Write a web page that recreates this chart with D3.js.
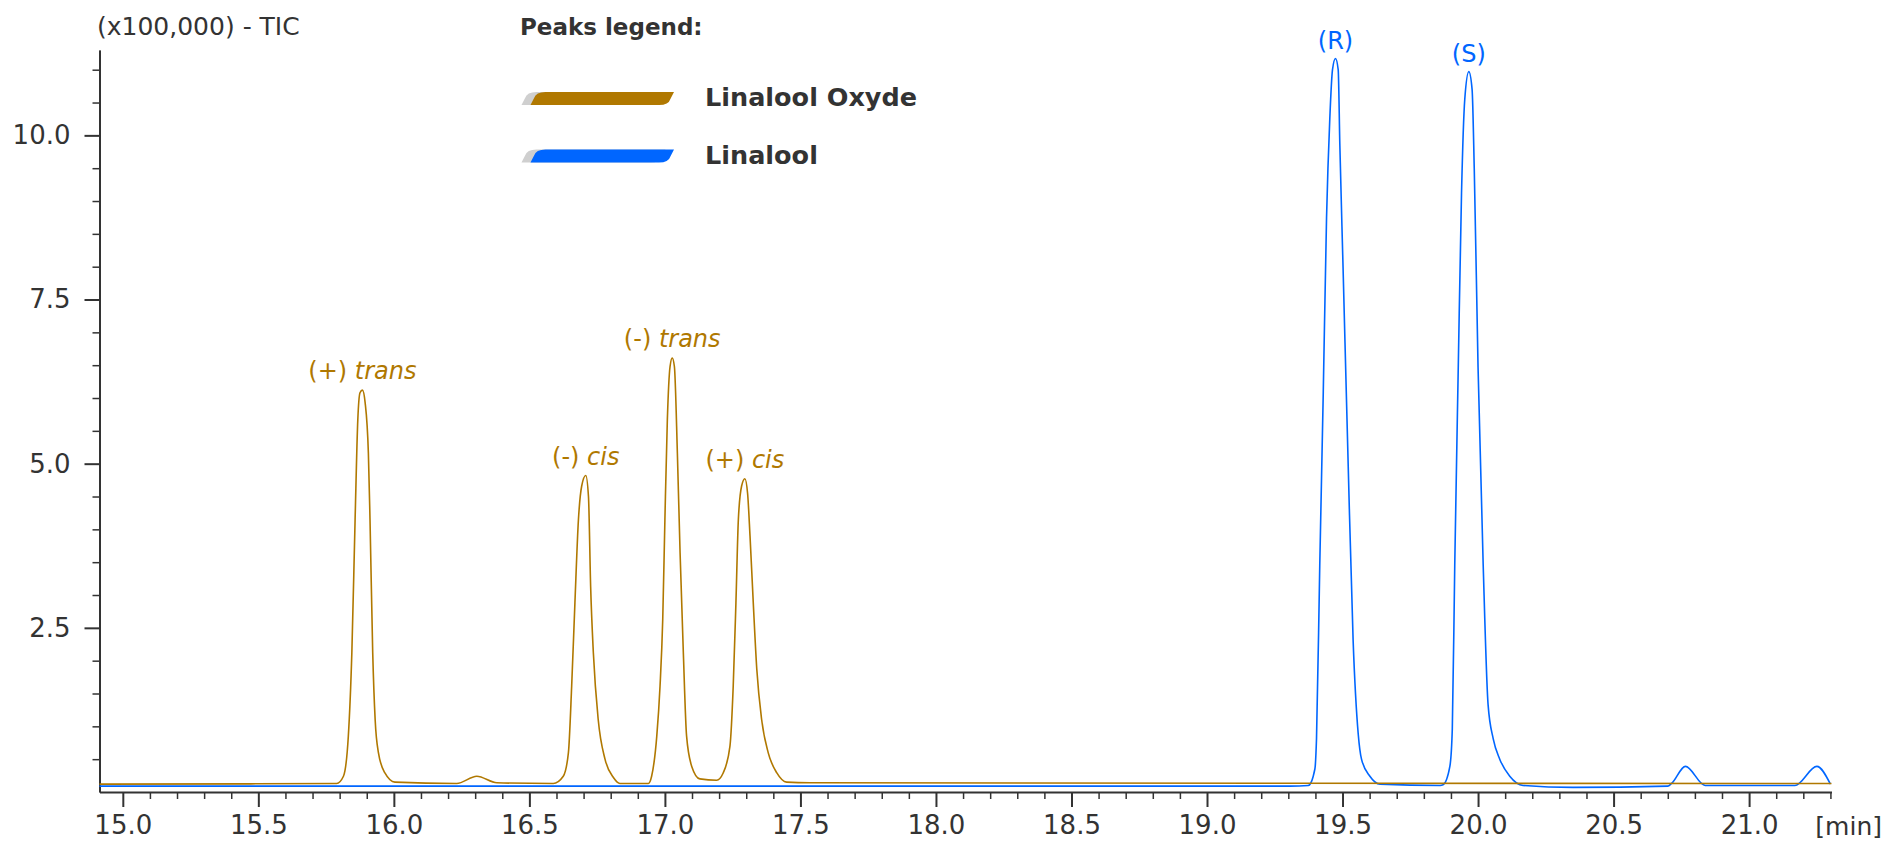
<!DOCTYPE html>
<html>
<head>
<meta charset="utf-8">
<script src="https://cdn.jsdelivr.net/npm/d3@7"></script>
<style>
	body { margin: 0; background: #fff; }
	svg { font-family: "DejaVu Sans", sans-serif; }
	.axis path, .axis line { stroke: #333; }
	.axis text { fill: #333; font-size: 26px; font-family: "DejaVu Sans", sans-serif; }
</style>
</head>
<body>
<svg class="tic" width="1883" height="841"></svg>
<script>
// Linalool Oxyde trace (min, x100,000 counts)
var oxydeTime = [14.914, 15.789, 15.814, 15.832, 15.845, 15.857, 15.867, 15.875, 15.884, 15.894, 15.906, 15.912, 15.922, 15.931, 15.943, 15.967, 16.004,
	16.232, 16.306, 16.380, 16.588,
	16.625, 16.644, 16.656, 16.668, 16.681, 16.693, 16.708, 16.718, 16.726, 16.736, 16.754, 16.779, 16.810, 16.834, 16.939,
	16.951, 16.970, 16.982, 16.992, 17.000, 17.009, 17.019, 17.027, 17.035, 17.046, 17.056, 17.068, 17.080, 17.099, 17.129, 17.191,
	17.215, 17.240, 17.252, 17.262, 17.271, 17.283, 17.295, 17.305, 17.314, 17.326, 17.339, 17.357, 17.381, 17.413, 17.449, 17.535, 21.304];
var oxydeSignal = [0.12, 0.13, 0.24, 0.85, 2.12, 4.15, 5.67, 6.08, 6.12, 5.93, 5.16, 4.15, 2.12, 1.10, 0.60, 0.29, 0.15,
	0.13, 0.24, 0.14, 0.13,
	0.24, 0.60, 1.61, 2.88, 4.15, 4.66, 4.82, 4.50, 3.13, 2.12, 1.10, 0.50, 0.22, 0.13, 0.13,
	0.24, 0.85, 1.61, 2.63, 4.15, 5.67, 6.48, 6.61, 6.48, 5.16, 3.64, 2.12, 0.85, 0.39, 0.20, 0.18,
	0.29, 0.70, 1.61, 2.88, 4.15, 4.66, 4.77, 4.55, 3.90, 2.88, 1.87, 1.10, 0.60, 0.29, 0.15, 0.14, 0.13];

// Linalool trace
var linaloolTime = [14.914, 19.306, 19.374, 19.398, 19.404, 19.416, 19.429, 19.441, 19.453, 19.463, 19.474, 19.484, 19.490, 19.502, 19.521, 19.539, 19.558, 19.570, 19.601, 19.638, 19.860,
	19.871, 19.896, 19.905, 19.914, 19.927, 19.939, 19.951, 19.966, 19.978, 19.986, 20.000, 20.019, 20.037, 20.056, 20.080, 20.117, 20.166,
	20.350, 20.700, 20.714, 20.765, 20.838, 21.169, 21.250, 21.300];
var linaloolSignal = [0.09, 0.09, 0.10, 0.35, 0.81, 3.45, 6.10, 8.74, 10.25, 11.00, 11.17, 11.00, 9.87, 7.98, 4.96, 2.32, 0.88, 0.50, 0.24, 0.12, 0.10,
	0.11, 0.39, 0.96, 3.45, 6.47, 9.12, 10.55, 10.97, 10.70, 9.49, 6.47, 3.45, 1.33, 0.81, 0.50, 0.24, 0.10,
	0.07, 0.09, 0.13, 0.39, 0.10, 0.10, 0.39, 0.12];

// peak labels
var oxydePeakLabels = [["(+) ", "trans"], ["(-) ", "cis"], ["(-) ", "trans"], ["(+) ", "cis"]];
var oxydePeakTime = [15.884, 16.708, 17.027, 17.295];
var oxydePeakSignal = [6.12, 4.82, 6.61, 4.77];
var linaloolPeakLabels = ["(R)", "(S)"];
var linaloolPeakTime = [19.474, 19.966];
var linaloolPeakSignal = [11.17, 10.97];

var legendNames = ["Linalool Oxyde", "Linalool"];
var seriesColors = ["#b07800", "#0066ff"];

var xDomain = [14.914, 21.304];
var yDomain = [0, 11.3];
var xMajorTicks = [15.0, 15.5, 16.0, 16.5, 17.0, 17.5, 18.0, 18.5, 19.0, 19.5, 20.0, 20.5, 21.0];
var yMajorTicks = [2.5, 5.0, 7.5, 10.0];

var tic = {
	svg:		null,
	xScale:		null,
	yScale:		null,
	left:		99.5,
	right:		1831.5,
	top:		50,
	bottom:		792,

	setup: function() {
		this.svg = d3.select(".tic");
		this.xScale = d3.scaleLinear().domain(xDomain).range([this.left, this.right]);
		this.yScale = d3.scaleLinear().domain(yDomain).range([this.bottom, this.top]);
	},

	draw: function() {
		var x = this.xScale, y = this.yScale;

		// minor ticks: every 0.1 min / every 0.5 units
		var xMinor = d3.range(151, 214).map(function(d) { return d / 10; })
			.filter(function(d) { return Math.round(d * 10) % 5 != 0; });
		var yMinor = d3.range(1, 23).map(function(d) { return d / 2; })
			.filter(function(d) { return yMajorTicks.indexOf(d) < 0; });

		this.svg.append("g")
			.attr("class", "axis")
			.attr("transform", "translate(0," + this.bottom + ")")
			.call(d3.axisBottom(x).tickValues(xMinor).tickSize(7).tickSizeOuter(0).tickFormat(""))
			.call(function(g) { g.selectAll("line").attr("stroke-width", 1.5); });

		this.svg.append("g")
			.attr("class", "axis")
			.attr("transform", "translate(0," + this.bottom + ")")
			.call(d3.axisBottom(x).tickValues(xMajorTicks).tickSize(15).tickSizeOuter(0).tickPadding(9).tickFormat(d3.format(".1f")))
			.call(function(g) { g.select(".domain").attr("stroke-width", 2); g.selectAll("line").attr("stroke-width", 2); });

		this.svg.append("g")
			.attr("class", "axis")
			.attr("transform", "translate(" + this.left + ",0)")
			.call(d3.axisLeft(y).tickValues(yMinor).tickSize(7).tickSizeOuter(0).tickFormat(""))
			.call(function(g) { g.selectAll("line").attr("stroke-width", 1.5); });

		this.svg.append("g")
			.attr("class", "axis")
			.attr("transform", "translate(" + this.left + ",0)")
			.call(d3.axisLeft(y).tickValues(yMajorTicks).tickSize(15).tickSizeOuter(0).tickPadding(14).tickFormat(d3.format(".1f")))
			.call(function(g) { g.select(".domain").attr("stroke-width", 2); g.selectAll("line").attr("stroke-width", 2); });

		this.svg.append("text")
			.attr("x", 97).attr("y", 35)
			.attr("fill", "#333").attr("font-size", 25)
			.text("(x100,000) - TIC");

		this.svg.append("text")
			.attr("x", 1882).attr("y", 835)
			.attr("text-anchor", "end")
			.attr("fill", "#333").attr("font-size", 25)
			.text("[min]");

		// traces
		var line = d3.line()
			.x(function(d) { return x(d[0]); })
			.y(function(d) { return y(d[1]); })
			.curve(d3.curveMonotoneX);

		var traces = [d3.zip(linaloolTime, linaloolSignal), d3.zip(oxydeTime, oxydeSignal)];
		var traceColors = [seriesColors[1], seriesColors[0]];
		this.svg.selectAll(".trace")
			.data(traces)
			.enter().append("path")
			.attr("class", "trace")
			.attr("d", line)
			.attr("fill", "none")
			.attr("stroke", function(d, i) { return traceColors[i]; })
			.attr("stroke-width", 1.6);

		// peak labels
		var oxLabels = this.svg.selectAll(".oxLabel")
			.data(oxydePeakLabels)
			.enter().append("text")
			.attr("class", "oxLabel")
			.attr("x", function(d, i) { return x(oxydePeakTime[i]); })
			.attr("y", function(d, i) { return y(oxydePeakSignal[i]) - 11; })
			.attr("text-anchor", "middle")
			.attr("fill", seriesColors[0])
			.attr("font-size", 24);
		oxLabels.append("tspan").text(function(d) { return d[0]; });
		oxLabels.append("tspan").attr("font-style", "italic").text(function(d) { return d[1]; });

		this.svg.selectAll(".liLabel")
			.data(linaloolPeakLabels)
			.enter().append("text")
			.attr("class", "liLabel")
			.attr("x", function(d, i) { return x(linaloolPeakTime[i]); })
			.attr("y", function(d, i) { return y(linaloolPeakSignal[i]) - 10; })
			.attr("text-anchor", "middle")
			.attr("fill", seriesColors[1])
			.attr("font-size", 24)
			.text(function(d) { return d; });

		this.drawLegend();
	},

	// slanted stroke with rounded top-left and bottom-right corners
	swatch: function(x0, y0, w, h, s, r) {
		return "M" + x0 + "," + (y0 + h) +
			" L" + (x0 + s * 0.4) + "," + (y0 + r) +
			" Q" + (x0 + s * 0.6) + "," + y0 + " " + (x0 + s + r) + "," + y0 +
			" L" + (x0 + w) + "," + y0 +
			" L" + (x0 + w - s * 0.4) + "," + (y0 + h - r) +
			" Q" + (x0 + w - s * 0.6) + "," + (y0 + h) + " " + (x0 + w - s - r) + "," + (y0 + h) +
			" Z";
	},

	drawLegend: function() {
		var self = this;
		this.svg.append("text")
			.attr("x", 520).attr("y", 35)
			.attr("fill", "#333").attr("font-size", 23).attr("font-weight", "bold")
			.text("Peaks legend:");

		var items = this.svg.selectAll(".legendItem")
			.data(legendNames)
			.enter().append("g")
			.attr("class", "legendItem")
			.attr("transform", function(d, i) { return "translate(0," + (i * 57.5) + ")"; });

		items.append("path")
			.attr("d", self.swatch(521.5, 92, 144, 13, 9, 6))
			.attr("fill", "#cfcfcf");
		items.append("path")
			.attr("d", self.swatch(530.5, 92, 143.5, 13, 9, 6))
			.attr("fill", function(d, i) { return seriesColors[i]; });
		items.append("text")
			.attr("x", 705).attr("y", 106)
			.attr("fill", "#333").attr("font-size", 25.5).attr("font-weight", "bold")
			.text(function(d) { return d; });
	}
};

tic.setup();
tic.draw();
</script>
</body>
</html>
